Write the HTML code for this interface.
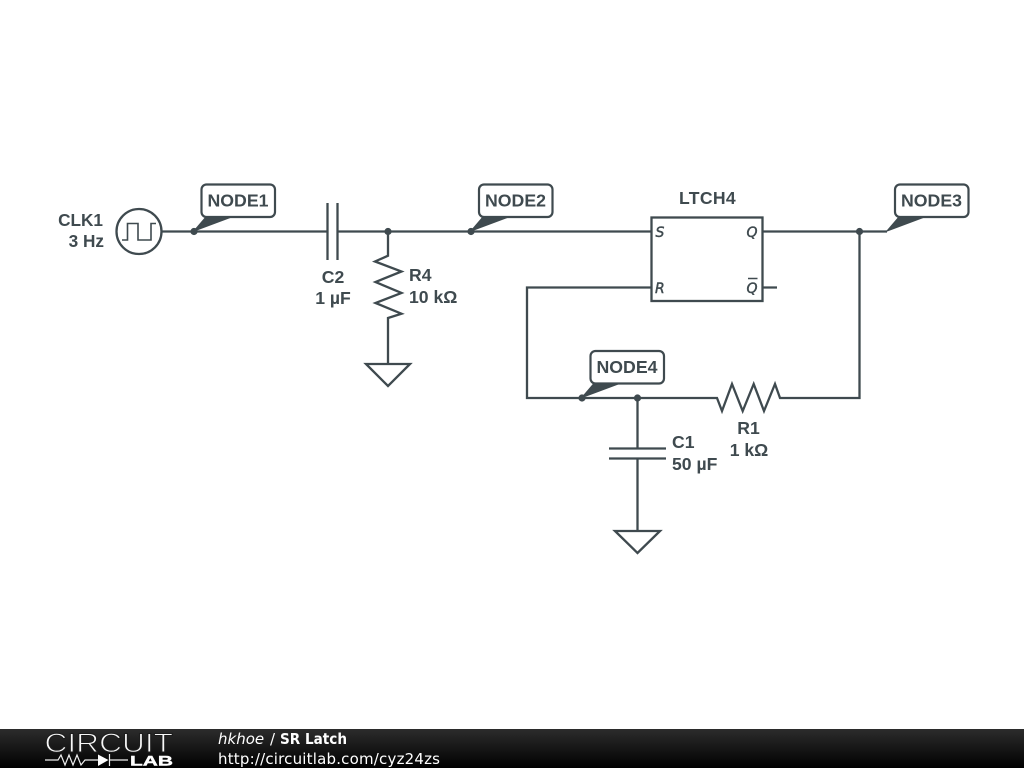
<!DOCTYPE html>
<html><head><meta charset="utf-8"><style>
html,body{margin:0;padding:0;background:#fff;width:1024px;height:768px;overflow:hidden}
svg{display:block}
.w{fill:none;stroke:#3f4a4f;stroke-width:2.3;stroke-linejoin:miter}
.t{font-family:"Liberation Sans",sans-serif;font-weight:bold;font-size:17.6px;fill:#3f4a4f}
.n{font-family:"Liberation Sans",sans-serif;font-weight:bold;font-size:17.7px;fill:#3f4a4f}
.p{font-family:"DejaVu Sans",sans-serif;font-style:italic;font-size:14px;fill:#3f4a4f;stroke:#3f4a4f;stroke-width:.45}
.b{fill:#fff;stroke:#3f4a4f;stroke-width:2.2}
.f{font-family:"DejaVu Sans",sans-serif;font-size:15px;fill:#fff}
</style></head><body>
<svg width="1024" height="768" viewBox="0 0 1024 768" xmlns="http://www.w3.org/2000/svg">
<defs><linearGradient id="g" x1="0" y1="0" x2="0" y2="1"><stop offset="0" stop-color="#2c2c2c"/><stop offset="0.5" stop-color="#161616"/><stop offset="1" stop-color="#000"/></linearGradient></defs>
<rect width="1024" height="768" fill="#fff"/>

<!-- wires -->
<path class="w" d="M161 231.5H327.5M337.5 231.5H651.5"/>
<path class="w" d="M327.5 203V260M337.5 203V260"/>
<path class="w" d="M388 231.5V255.7L375 261.5L401.5 271.5L375.5 282L401.5 293L375.5 303L401.5 313.7L388 318V364"/>
<path class="w" d="M366 364H410L388 386Z"/>
<path class="w" d="M762.5 231.5H887M762.5 287.5H777"/>
<path class="w" d="M651.5 287.5H527V398H717L722 411L732 384L742.7 411L753.7 384L764 411L775 384L780 398H859.5V231.5"/>
<path class="w" d="M637.5 398V448.5M637.5 458.5V531M609 448.5H666M609 458.5H666"/>
<path class="w" d="M615 531H660L637.5 553Z"/>

<!-- clock -->
<circle class="w" cx="139" cy="231.5" r="22.5"/>
<path d="M122 240H127.5V223.5H138V240H151V223.5H156" fill="none" stroke="#3f4a4f" stroke-width="1.6"/>

<!-- latch -->
<rect class="w" x="651.5" y="217.5" width="111" height="83.5"/>
<text class="p" x="655.5" y="237">S</text>
<text class="p" x="655" y="293">R</text>
<text class="p" x="746.5" y="237">Q</text>
<text class="p" x="746.5" y="293">Q</text>
<path d="M748 278.5H757.5" stroke="#3f4a4f" stroke-width="1.5"/>
<text class="t" x="707.5" y="204" text-anchor="middle" letter-spacing=".3">LTCH4</text>

<!-- dots -->
<g fill="#3f4a4f"><circle cx="194" cy="231.5" r="3.6"/><circle cx="388" cy="231.5" r="3.6"/><circle cx="471" cy="231.5" r="3.6"/><circle cx="859.5" cy="231.5" r="3.6"/><circle cx="582" cy="398" r="3.6"/><circle cx="637.5" cy="398" r="3.6"/></g>

<!-- node labels -->
<rect class="b" x="201.5" y="184.5" width="73.5" height="32.5" rx="5"/>
<rect class="b" x="479" y="184.5" width="73.5" height="32.5" rx="5"/>
<rect class="b" x="895" y="184.5" width="73.5" height="32.5" rx="5"/>
<rect class="b" x="590.5" y="351" width="73.5" height="32.5" rx="5"/>
<g fill="#3f4a4f" stroke="#3f4a4f" stroke-width="1.2" stroke-linejoin="round">
<path d="M194 231L206 217H231.5Z"/><path d="M471 231L483 217H508.5Z"/><path d="M887 231L899 217H924.5Z"/><path d="M582 397.5L594 383.5H619.5Z"/>
</g>
<text class="n" x="238" y="206.5" text-anchor="middle">NODE1</text>
<text class="n" x="515.5" y="206.5" text-anchor="middle">NODE2</text>
<text class="n" x="931.5" y="206.5" text-anchor="middle">NODE3</text>
<text class="n" x="627" y="373" text-anchor="middle">NODE4</text>

<!-- labels -->
<text class="t" x="103" y="226" text-anchor="end" style="font-size:17.2px">CLK1</text>
<text class="t" x="104" y="247" text-anchor="end" style="font-size:17.2px">3 Hz</text>
<text class="t" x="333" y="283" text-anchor="middle">C2</text>
<text class="t" x="333" y="304" text-anchor="middle">1 µF</text>
<text class="t" x="409" y="281">R4</text>
<text class="t" x="409" y="303">10 kΩ</text>
<text class="t" x="672" y="448">C1</text>
<text class="t" x="672" y="470">50 µF</text>
<text class="t" x="748.5" y="434" text-anchor="middle">R1</text>
<text class="t" x="749" y="456" text-anchor="middle">1 kΩ</text>

<!-- footer -->
<rect x="0" y="729" width="1024" height="39" fill="url(#g)"/>
<text x="44.5" y="752" font-family="'Liberation Sans',sans-serif" font-size="26.5" fill="#f8f8f8" stroke="#1d1d1d" stroke-width="1" paint-order="fill stroke" textLength="128.5" lengthAdjust="spacingAndGlyphs">CIRCUIT</text>
<path d="M45 760H58L61 755L65 765L69 755L73 765L77 755L81 765L85 760H98M110 760H128M109.5 754V766" fill="none" stroke="#eee" stroke-width="1.2"/>
<path d="M98 754.5L108.5 760L98 766Z" fill="#fff"/>
<text x="130" y="765.5" font-family="'Liberation Sans',sans-serif" font-weight="bold" font-size="14" fill="#fff" stroke="#fff" stroke-width=".4" textLength="43" lengthAdjust="spacingAndGlyphs">LAB</text>
<text class="f" x="218" y="744" font-style="italic">hkhoe</text>
<text class="f" x="270" y="744">/</text>
<text class="f" x="280" y="744" font-weight="bold" textLength="67" lengthAdjust="spacingAndGlyphs">SR Latch</text>
<text class="f" x="218" y="764" textLength="222">http://circuitlab.com/cyz24zs</text>
</svg>
</body></html>
